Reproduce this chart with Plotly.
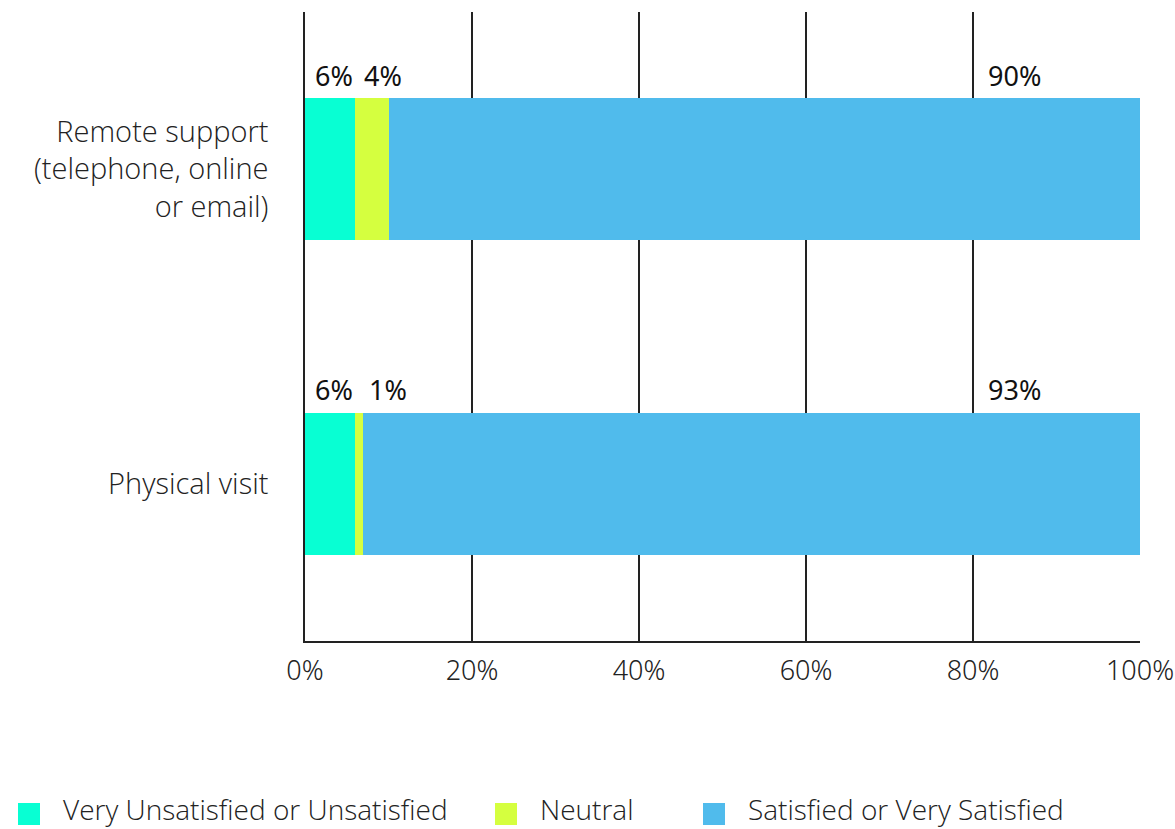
import plotly.graph_objects as go

# Survey results: share of respondents per satisfaction level
categories = ["Remote support<br>(telephone, online<br>or email)", "Physical visit"]
series_names = ["Very Unsatisfied or Unsatisfied", "Neutral", "Satisfied or Very Satisfied"]
very_unsatisfied = [6, 6]
neutral = [4, 1]
satisfied = [90, 93]
tick_values = [0, 20, 40, 60, 80, 100]
tick_labels = ["0%", "20%", "40%", "60%", "80%", "100%"]

colors = ["#08FFD3", "#D5FF3F", "#50BBEC"]
series = [very_unsatisfied, neutral, satisfied]

LABEL_FONT = "Noto Sans"
TEXT_FONT = "Open Sans"

W, H = 1175, 829
ML, MR, MT, MB = 305, 35, 12, 188
PW, PH = W - ML - MR, H - MT - MB


def px_to_paper(px, py):
    return (px - ML) / PW, (H - MB - py) / PH


fig = go.Figure()
for name, vals, col in zip(series_names, series, colors):
    fig.add_trace(go.Bar(
        y=categories, x=vals, name=name, orientation="h",
        marker=dict(color=col, line=dict(width=0)),
        width=0.45, showlegend=False, hoverinfo="x+name",
    ))

# Value labels above each segment
for ci, cat in enumerate(categories):
    start = 0
    for si, vals in enumerate(series):
        v = vals[ci]
        if si == len(series) - 1:
            x, anchor = start + v - 11.6, "right"
        elif si == 0:
            x, anchor = start + 1.0, "left"
        else:
            x, anchor = start + 0.8 + (0.6 if v < 2 else 0), "left"
        fig.add_annotation(
            x=x, y=cat, yshift=94, text=f"{v}%", showarrow=False,
            xanchor=anchor, yanchor="middle",
            font=dict(family=LABEL_FONT, size=27, color="#111111", weight=400),
        )
        start += v

# Legend row along the bottom: square swatch + label
legend_x = [18, 495, 703]
for name, col, lx in zip(series_names, colors, legend_x):
    x0, y0 = px_to_paper(lx, 825)
    x1, y1 = px_to_paper(lx + 22, 803)
    fig.add_shape(type="rect", xref="paper", yref="paper",
                  x0=x0, x1=x1, y0=y0, y1=y1,
                  fillcolor=col, line=dict(width=0))
    tx, ty = px_to_paper(lx + 43, 809)
    fig.add_annotation(
        xref="paper", yref="paper", x=tx, y=ty, text=name, showarrow=False,
        xanchor="left", yanchor="middle",
        font=dict(family=TEXT_FONT, size=28, color="#222222", weight=300),
    )

fig.update_layout(
    barmode="stack",
    width=W, height=H,
    margin=dict(l=ML, r=MR, t=MT, b=MB, autoexpand=False),
    plot_bgcolor="white", paper_bgcolor="white",
    showlegend=False,
    xaxis=dict(
        range=[0, 100], tickvals=tick_values, ticktext=tick_labels,
        showgrid=True, gridcolor="#222222", gridwidth=1.5,
        showline=True, linecolor="#222222", linewidth=2,
        zeroline=False, ticks="", ticklabelstandoff=5,
        tickfont=dict(family=LABEL_FONT, size=27, color="#222222", weight=300),
    ),
    yaxis=dict(
        autorange="reversed", showgrid=False, zeroline=False,
        showline=True, linecolor="#222222", linewidth=1.5,
        ticks="", ticklabelstandoff=29,
        tickfont=dict(family=TEXT_FONT, size=29, color="#222222", weight=300),
    ),
    bargap=0.55,
)

fig.write_html("out.html")
